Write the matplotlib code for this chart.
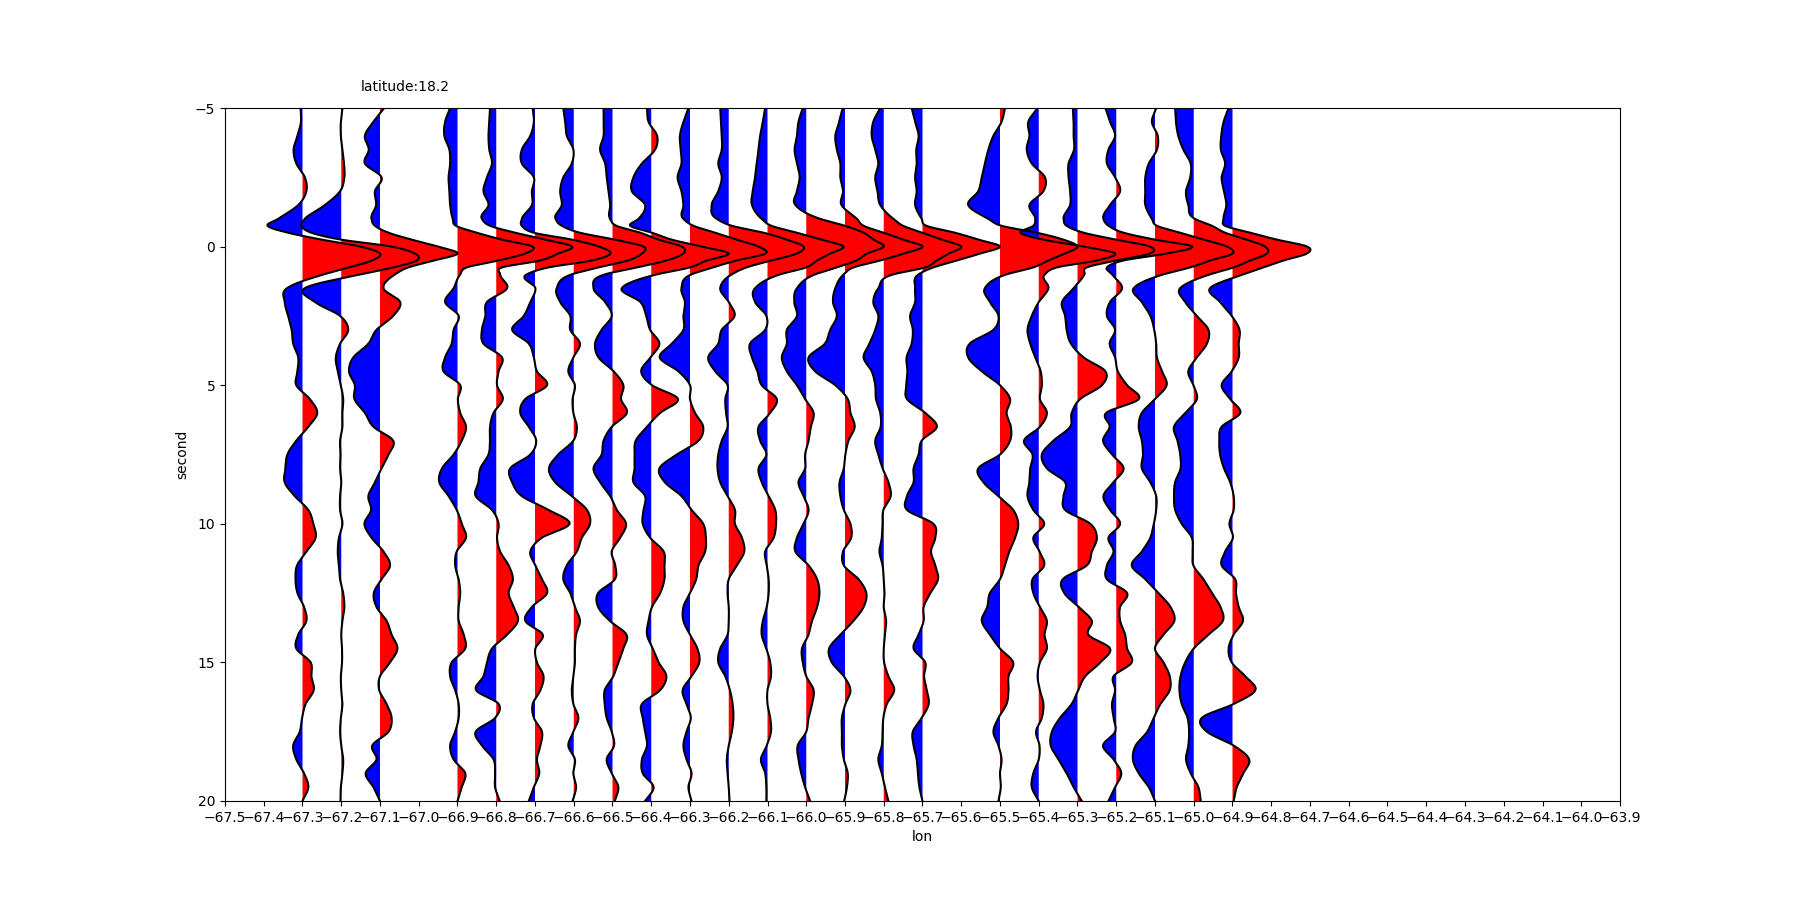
import numpy as np
import matplotlib
matplotlib.use("Agg")
import matplotlib.pyplot as plt

# sample times (seconds)
times = [-5, -4.5, -4, -3.5, -3, -2.5, -2, -1.5, -1, -0.75, -0.5, -0.25, 0, 0.25, 0.5, 0.75, 1, 1.5, 2, 2.5, 3,
         3.5, 4, 4.5, 5, 5.5, 6, 6.5, 7, 7.5, 8, 8.5, 9, 9.5, 10, 10.5, 11, 11.5,
         12, 12.5, 13, 13.5, 14, 14.5, 15, 15.5, 16, 16.5, 17, 17.5, 18, 18.5, 19, 19.5, 20]

lons = [-67.3, -67.2, -67.1, -66.9, -66.8, -66.7, -66.6, -66.5, -66.4, -66.3, -66.2, -66.1,
        -66.0, -65.9, -65.8, -65.7, -65.5, -65.4, -65.3, -65.2, -65.1, -65.0, -64.9]

# amplitudes, in hundredths of a degree of longitude
t01 = [-.5,-.4,-1.3,-2.3,-1.6,.6,1,-1.1,-6.3,-9,-3.7,5,15,20,18,12,5.5,-4,-4.6,-3.7,-2.8,
       -2.4,-1.1,-1.3,-1.6,1.9,3.8,1.5,-1.6,-3.9,-4.4,-4.6,-2,1.5,2.8,3.4,1,-1.4,
       -1.8,-1.3,.4,1,-1.1,-1.6,2.1,2.3,2.9,.8,-.1,-.7,-2.4,-1.6,.4,1.5,0]
t02 = [.3,-.1,-.1,.3,.7,.8,-.3,-4.2,-9.4,-10.3,-7.7,0,13,19,19.5,13.5,5,-9.4,-6.8,-.3,1.8,
       -.3,-1.4,-.9,-.1,.5,.3,.3,-.3,-.2,-.3,0,-.3,-.3,.3,-.6,-.9,-.6,
       -.3,.5,.8,.3,0,.2,.2,-.1,0,.3,-.1,-.3,0,.5,.3,-.1,-.2]
t03 = [1.1,-1.7,-3.9,-2.9,-3.9,.4,-1.3,-1,-2.2,-1.3,2.2,8.2,15,20,14,7.3,3.9,.9,5.2,3.4,-.9,
       -3,-6.9,-8,-6.5,-6.6,-3.9,-1.7,3.4,2.2,.4,-1.3,-3,-2.3,-4,-2.2,.9,2.6,
       .4,-1.6,-.9,1.7,3,4.5,2.6,0,-.2,1.7,3,2.2,-2,-.9,-3.7,-1.7,0]
t04 = [-1.9,-3.2,-3.4,-2.1,-1.9,-2.3,-2.1,-1.9,-1.2,-.4,5,11.5,19.4,17.5,10.6,2.4,.7,-1,-3.2,.3,-1,
       -1.5,-3.2,-3.6,.7,.1,.7,2.2,1.1,-1,-4,-4.7,-2.3,-.2,1.1,2.2,-.2,-.6,
       .3,.7,.3,.3,1.6,2,-1.5,-1.9,-.6,.3,.3,-.6,-1.9,-1,2,1.1,0]
t05 = [-1.6,-1.8,-2,-1.8,-1.1,-2.4,-3.3,-2,-3.7,-1.6,4.9,12.7,19.6,16,11.4,1.5,1,2.8,-2.4,-2.8,-3.7,
       -3.3,1.5,.6,.2,1.7,-.7,-1.6,-1.6,-2,-4.1,-4.6,-5.3,-1.1,.6,.2,1,3.2,
       4.3,3.2,4.5,5.6,2.8,-1.1,-2.4,-3.3,-5.2,.6,-.3,-5.3,-3.7,-.7,-.3,-.3,.9]
t06 = [-.6,-.3,-1.2,-3.4,-3.4,-.3,-.8,-.8,-3.4,-3.4,-.3,9.6,16.5,19.5,14.7,3.5,-2.1,.1,-1.2,-2.9,-5.9,
       -1.6,-.3,.5,3.1,-2.5,-3.8,-1.6,.3,-1.2,-6.4,-5.9,-3.4,3.5,8.9,1.8,-1.2,.1,
       1.8,3.1,-.8,-2.5,2,.1,.5,2.2,1.4,-.6,-.3,1.8,1.4,.5,1.1,-.3,-1.6]
t07 = [-2.7,-2.2,-1.8,-.1,-.5,-2.7,-3.5,-3.1,-4.7,-3.1,1.6,10.7,18,17.6,14,6.4,-.5,-4.4,-3.5,-.9,-.9,
       1.6,-.1,-1.4,.3,-.3,-.1,.8,-.1,-4,-6.4,-4.8,-.5,3.4,4.2,2.1,.8,-1.8,
       -2.7,-.9,.3,1.6,.6,.3,.3,-.1,-.5,-.1,1.2,-.1,-1.4,.3,-.1,.6,-.3]
t08 = [-2.3,-2.3,-2.3,-3.2,-1.9,-1.5,-1,-.6,-.6,1,7.2,11.9,17.9,18.3,14,6.3,-1.9,-4.9,-1.9,-.2,-2.8,
       -4.5,-3.6,.3,2.8,2.2,3.7,-.2,-2.3,-2.8,-4.9,-3.2,-.6,1.1,3.5,2,-.2,.7,
       .6,-3.7,-3.7,-.7,3.6,2.8,1.5,.2,-2,-2,-1.5,-.2,.4,-1.5,-.2,1.5,.6]
t09 = [-1.1,-.7,1.5,1,-2.4,-4.6,-5,-1.6,-3.3,-5.4,.2,5.3,13,20,14.4,10,1.5,-7.6,-2.8,-1.3,-.3,
       2.1,-.2,-2.6,.2,6.9,2.3,-1.1,-4,-4.3,-4.3,-4.6,-1.6,-2,-2.2,-.3,3.2,3.4,
       3.4,2.3,.2,-.7,-1.1,.4,1.9,3.9,2.3,-2.4,-2.2,-1.6,-1.1,-2.4,-2.2,.6,-1.6]
t10 = [-.4,-1.7,-2.6,-2.4,-2.2,-3.2,-2.2,-1.7,-1.7,.9,6.5,12,17.7,19.5,12,6,.4,-2.2,-1.3,-1.7,-1.7,
       -4.7,-7.8,-3,0,0,1.3,3.4,2.2,-3.4,-7.9,-6.5,-2.2,.4,3.4,4.1,3.9,2.2,
       1.6,0,-1.7,-1.7,0,1.9,2.4,.4,-1.9,-.9,.2,-.9,-1.7,-.9,.4,-.4,.4]
t11 = [-2.2,-2,-1.8,-1.8,-2.7,-1.8,-2.7,-4.4,-3.1,.8,9,15,19.3,17.6,11,4.6,.8,-2.2,0,1.5,-1.8,
       -2.7,-5.3,-3.5,-.3,-.9,-.7,-.3,-1.8,-2.7,-2.9,-2.2,-.3,1.6,1.6,3.4,4,2.1,
       0,-.3,0,0,-.3,-2.2,-2.7,-.9,.3,1,1.2,.8,0,-.5,-.3,0,.2]
t12 = [-.6,-1.2,-1.9,-2.3,-2.8,-3.2,-3.8,-4,-1.5,1,7.6,14,19.6,16.2,12.8,10,3.3,-3.2,-3.2,-.3,-.6,
       -4.5,-4,-2.6,-1.5,2.4,.7,-2.3,-1.9,-.3,-2.3,-1.5,.3,2,2.2,1.6,-.6,-.2,
       .3,.3,-.2,-1.2,-1.5,-.3,.7,.9,0,0,.7,.9,-.2,-1.7,-.6,-.3,-.3]
t13 = [-.9,-2,-2.4,-3,-2.4,-1.7,-2.4,-2.8,3.6,10,14.8,17.4,20,15.7,13,7.9,2.3,-2.4,-3.1,-2.4,-5,
       -5,-6.3,-5,-2.4,-.3,1.9,1.2,.6,-.3,-.3,-2,-.7,.6,-.7,-2.4,-2.8,.6,
       2.8,3.4,2.8,1.5,.6,-1.1,-.9,0,1.9,1.5,.6,0,-2.2,-2,-1.3,-.3,1]
t14 = [-.6,-1.5,-2.5,-2.1,-1.2,-1.2,-.5,-.9,3.1,4.8,10,15,20,15.2,9.1,2.2,-.3,-2.5,-3.1,-2.1,-3.8,
       -5.2,-9.4,-7.7,-2.5,.7,1.4,2.5,.9,.1,-.3,-1.4,-1.2,-.3,1.4,1.6,-.5,-.3,
       3.5,5.5,4.8,2.2,-1.2,-4.1,-3.4,-.3,1.4,.1,-.8,-.8,-.8,-.3,.7,.5,-.2]
t15 = [-.9,-2.7,-3.1,-2.2,-1.4,-2.2,-1.6,-.9,2.5,5,10,15,20,16.8,13.7,10.7,2.5,-1.4,-2.7,-1.4,-2.2,
       -3.7,-5.2,-3.1,-2.2,-2,-.9,-.8,-2.2,-1.4,-.3,1.2,1.8,-.1,-.3,-.5,-1.1,-.3,
       0,.2,0,.6,.3,0,.1,1.2,2.7,.8,-.1,-.3,-.5,-1.4,-.5,.3,1.2]
t16 = [-2.8,-1.9,-1,-1.6,-1.5,-1.9,-1.5,-1.9,-.2,1,8.4,14.5,20,14.9,8.9,2.8,-1,-1.9,-1.9,-3.2,-2.5,
       -2.8,-4.1,-3.9,-4.2,-4,.7,3.7,-.2,-1,-2.3,-2.3,-4,-4,2.8,3.3,2.2,3.3,
       4,2,.3,.3,-1,-2.3,.7,.4,1.1,1.6,-.2,-2.5,-2.3,-1.5,-1.2,-.8,0]
t17 = [1.3,.4,-1.7,-3,-3.9,-4.7,-5.6,-8.2,-3,.4,9.5,16.4,20,16.8,12.5,8.6,1.7,-3.9,-2.6,-.4,-1.7,
       -7.8,-8.2,-4.7,0,2.6,1.7,2.8,2.6,0,-5.6,-4.3,-.4,3.4,4.7,3.9,2.4,1.3,
       0,-2.6,-3.3,-4.7,-2.6,0,3.4,2.2,2.2,1.7,-.4,-1.7,-.4,.4,0,.2,-.4]
t18 = [-.3,-2.7,-2.4,-3.1,-1.8,1.6,1.2,-2.4,-.9,-1.4,-4.7,1.2,11.7,19.7,15,4.7,1.6,2.5,0,-1.8,-2.9,
       -2.2,-.9,.5,.8,.3,2.1,.3,-3.8,-1.6,-2.2,-2.4,-2.9,-1.4,1.4,-1.4,.2,1.4,
       -1.6,-1.4,.3,2.1,1.5,2.1,.3,-.3,.3,1.2,.8,-.7,.2,0,-1.4,-1.8,0]
t19 = [-1.2,-1,-1,-.9,-2.3,-2.3,-1.9,-1.9,-3.6,-2.8,1.6,10,18.7,18.7,10,2.4,1.8,-1,-4,-3.2,-2.8,
       -1.7,1.6,7.2,6.3,.7,-1.5,-1.9,-6.2,-9.2,-7.9,-3.2,-3.6,-3.2,3.3,5,3.7,2.4,
       -3.8,-3.4,.3,3.7,2.8,8.4,5.9,2,.2,-1.5,-4.5,-6.6,-6.9,-4.9,-2.8,-1,1.1]
t20 = [-2.8,-1.6,-.3,-2,-2.4,-.3,1,-1.6,-3.3,-2,1.9,10,19.6,13,1.9,-2.4,-1.1,1.5,-1.6,-2.4,-.3,
       -1.7,-.3,.4,2.8,5.8,-2.6,-1.7,-3.4,-1.1,1.9,-.7,-3.3,-1.6,1,-2,-.7,-2.4,
       -2.4,2.8,1,1,2.3,2.8,4,-.7,-.3,-1.1,-.7,-.3,-3.4,-.7,1.3,-.3,-2]
t21 = [.3,-.8,.7,.5,-1.6,-2.5,-2.5,-2.5,-.8,.5,6.5,12.6,18.6,20,14.3,9.1,2.2,-5.5,-3.4,-1.2,-.2,
       .3,.5,1.8,3,0,-3.4,-4.2,-3.4,-3.1,-3.4,-1.2,.3,.3,-.3,-1.2,-3.4,-6,
       -2.5,.9,4,5,2.2,0,2.2,3.8,3.8,1.4,-.3,-2,-5,-5.7,-4.2,-1.6,0]
t22 = [-4.8,-4.6,-4,-2.7,-.8,-.9,-2,-1.4,.3,4.7,8.1,13.7,18.4,18.9,14.6,10.3,4.2,-3.5,-2.2,.8,3.8,
       3.4,.8,-1.4,-.1,.8,-2.2,-5.1,-4.2,-3.5,-3.4,-4.8,-5.1,-4.8,-3.1,-.5,-.3,-.1,
       2.5,4.7,6.9,7.5,3.8,0,-2.2,-3.4,-3.7,-3.1,-1.6,-1.2,-1.4,-2,-.8,1.2,1.8]
t23 = [-1,-2.3,-2.9,-3,-1.9,-2.8,-2.2,-1.6,-2.3,-1.9,4.6,11.5,19.3,19.2,13.2,8,2.8,-5.8,-3.2,-.2,1.8,
       1.6,1.6,-.2,-2.8,-.6,2,-2.8,-3.4,-3.2,-2.2,-.6,.3,.3,-.8,.1,-1.9,-2.8,
       .7,.9,1.6,2.7,.3,-1,-.2,3.3,5.9,.3,-7.9,-6.6,.3,4.3,2.8,1.1,.3]

traces = [t01, t02, t03, t04, t05, t06, t07, t08, t09, t10, t11, t12,
          t13, t14, t15, t16, t17, t18, t19, t20, t21, t22, t23]

xtick_values = [round(-67.5 + 0.1 * i, 1) for i in range(37)]
ytick_values = [-5, 0, 5, 10, 15, 20]


def smooth(t, v, step=0.02):
    """Draw the read samples as a smooth curve (cubic Hermite)."""
    t = np.asarray(t, float)
    v = np.asarray(v, float)
    m = np.gradient(v, t)
    tt = np.arange(t[0], t[-1] + step / 2, step)
    i = np.clip(np.searchsorted(t, tt, side="right") - 1, 0, len(t) - 2)
    h = t[i + 1] - t[i]
    s = (tt - t[i]) / h
    vv = ((2*s**3 - 3*s**2 + 1) * v[i] + (s**3 - 2*s**2 + s) * h * m[i]
          + (-2*s**3 + 3*s**2) * v[i + 1] + (s**3 - s**2) * h * m[i + 1])
    return tt, vv


fig, ax = plt.subplots(figsize=(18, 9), dpi=100)
for lon, amp in zip(lons, traces):
    tt, vv = smooth(times, amp)
    x = lon + vv / 100.0
    ax.fill_betweenx(tt, lon, x, where=vv >= 0, color="red", linewidth=0, interpolate=True)
    ax.fill_betweenx(tt, lon, x, where=vv <= 0, color="blue", linewidth=0, interpolate=True)
    ax.plot(x, tt, color="black", linewidth=1.5)

ax.set_xlim(-67.5, -63.9)
ax.set_ylim(20, -5)
ax.set_xticks(xtick_values)
ax.set_yticks(ytick_values)
ax.set_xlabel("lon")
ax.set_ylabel("second")
ax.text(0.097, 1.025, "latitude:18.2", transform=ax.transAxes, fontsize=10)

fig.savefig("out.png", dpi=100)
